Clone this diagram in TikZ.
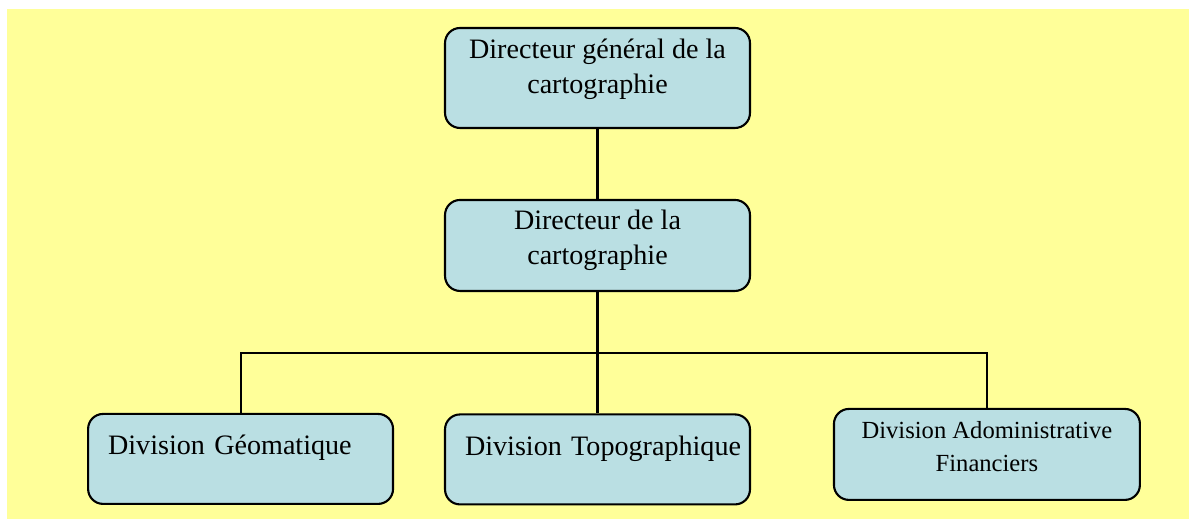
\documentclass[tikz,border=0pt]{standalone}
\usepackage{fontspec}
\setmainfont{Liberation Serif}
\usetikzlibrary{positioning}
\definecolor{fondyellow}{HTML}{FFFF99}
\definecolor{boxblue}{HTML}{BADFE3}

\begin{document}
\begin{tikzpicture}[x=0.02cm, y=-0.02cm, on grid, line width=1.2pt,
    box/.style={rectangle, rounded corners=0.3cm, draw=black, fill=boxblue,
      inner ysep=0pt, font=\fontsize{16}{20}\selectfont},
    chief/.style={box, align=center, minimum width=6.1cm, inner xsep=0pt},
    division/.style={box, align=left, text width=5.3cm, inner xsep=0.4cm,
      text height=0.82cm, text depth=0.98cm}]
      \useasboundingbox (0,0) rectangle (1189,519);
      \fill[fondyellow] (7,9) rectangle (1189,519);

      \node[chief, text height=1.32cm, text depth=0.68cm] (dg) at (597.5,78)
        {Directeur général de la\\cartographie};
      \node[chief, text height=1.3cm, text depth=0.52cm, below=3.35cm of dg] (dir)
        {Directeur de la\\cartographie};
      \node[division, below left=4.27cm and 7.14cm of dir] (geo) {\mbox{Division Géomatique}};
      \node[division, below=4.28cm of dir] (topo) {\mbox{Division Topographique}};
      \node[chief, minimum width=6.12cm, text height=1.26cm, text depth=0.56cm,
        font=\fontsize{14}{19}\selectfont, above right=0.1cm and 7.79cm of topo] (adm)
        {Division Adoministrative\\Financiers};
      \coordinate[below=1.22cm of dir.south] (fork);

      \draw (dg) -- (dir);
      \draw (dir) -- (fork);
      \draw (geo.north) |- (fork) -| (adm.north);
      \draw (fork) -- (topo);
    \end{tikzpicture}
\end{document}
